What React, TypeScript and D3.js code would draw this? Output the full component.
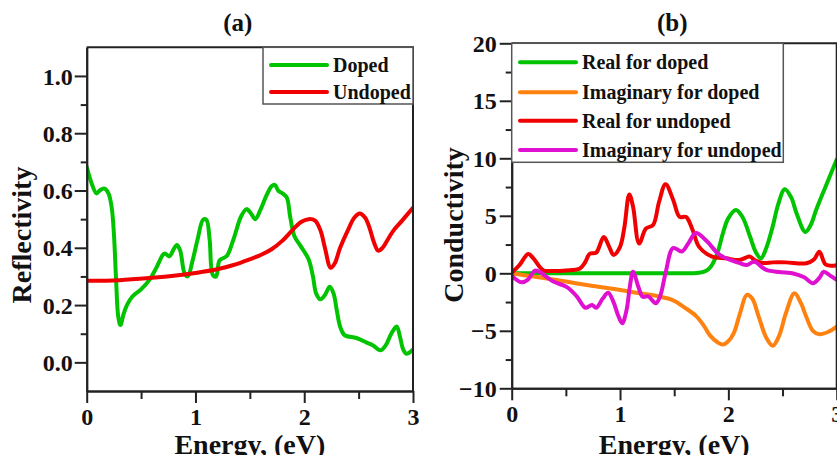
import React, { useEffect, useRef } from 'react';
import * as d3 from 'd3';

// ---- panel (a): reflectivity ----
const reflDopedE = [0, 0.05, 0.09, 0.12, 0.16, 0.2, 0.23, 0.25, 0.27, 0.29, 0.31, 0.34, 0.37, 0.42, 0.5, 0.58, 0.64, 0.7, 0.72, 0.76, 0.8, 0.83, 0.86, 0.9, 0.93, 0.97, 1.02, 1.07, 1.1, 1.13, 1.16, 1.19, 1.22, 1.26, 1.29, 1.35, 1.42, 1.47, 1.51, 1.55, 1.6, 1.65, 1.7, 1.73, 1.76, 1.8, 1.84, 1.87, 1.91, 1.96, 2.04, 2.08, 2.11, 2.15, 2.19, 2.235, 2.27, 2.3, 2.33, 2.37, 2.48, 2.57, 2.63, 2.7, 2.75, 2.8, 2.85, 2.88, 2.91, 2.94, 3.0];
const reflDoped = [0.683, 0.62, 0.59, 0.6, 0.607, 0.59, 0.54, 0.45, 0.29, 0.16, 0.13, 0.17, 0.2, 0.23, 0.255, 0.29, 0.33, 0.375, 0.38, 0.37, 0.395, 0.41, 0.39, 0.31, 0.3, 0.35, 0.43, 0.498, 0.498, 0.43, 0.305, 0.3, 0.355, 0.365, 0.372, 0.43, 0.51, 0.535, 0.52, 0.5, 0.535, 0.58, 0.615, 0.62, 0.6, 0.59, 0.575, 0.51, 0.44, 0.41, 0.36, 0.3, 0.24, 0.22, 0.235, 0.264, 0.24, 0.18, 0.125, 0.095, 0.085, 0.07, 0.06, 0.042, 0.06, 0.1, 0.125, 0.09, 0.045, 0.03, 0.045];
const reflUndopedE = [0, 0.3, 0.6, 0.8, 1.0, 1.2, 1.35, 1.5, 1.6, 1.7, 1.8, 1.9, 1.97, 2.04, 2.1, 2.15, 2.19, 2.243, 2.28, 2.33, 2.4, 2.46, 2.51, 2.56, 2.6, 2.64, 2.68, 2.72, 2.77, 2.82, 2.9, 3.0];
const reflUndoped = [0.285, 0.287, 0.295, 0.302, 0.312, 0.325, 0.34, 0.36, 0.375, 0.395, 0.425, 0.465, 0.49, 0.5, 0.495, 0.46, 0.4, 0.33, 0.345, 0.4, 0.46, 0.505, 0.52, 0.505, 0.47, 0.42, 0.39, 0.4, 0.43, 0.46, 0.495, 0.54];

// ---- panel (b): conductivity ----
const realDopedE = [0, 0.5, 1.0, 1.5, 1.73, 1.8, 1.84, 1.9, 1.95, 2.0, 2.07, 2.13, 2.2, 2.25, 2.3, 2.35, 2.41, 2.46, 2.52, 2.58, 2.63, 2.71, 2.76, 2.81, 2.9, 3.0];
const realDoped = [0, 0, 0, 0, 0.05, 0.25, 0.6, 1.8, 3.5, 4.8, 5.5, 4.9, 3.2, 1.9, 1.3, 2.2, 4.1, 6.0, 7.3, 6.6, 5.2, 3.6, 4.2, 5.5, 7.6, 9.9];
const imagDopedE = [0, 0.25, 0.5, 0.75, 1.0, 1.18, 1.35, 1.49, 1.6, 1.7, 1.77, 1.83, 1.9, 1.95, 2.0, 2.05, 2.11, 2.17, 2.22, 2.28, 2.35, 2.41, 2.47, 2.53, 2.61, 2.67, 2.72, 2.78, 2.84, 2.92, 3.0];
const imagDoped = [0, -0.35, -0.72, -1.1, -1.45, -1.74, -2.0, -2.35, -3.0, -3.7, -4.5, -5.4, -6.0, -6.2, -5.9, -5.2, -3.4, -1.88, -2.2, -3.77, -5.6, -6.3, -5.4, -3.5, -1.74, -2.6, -3.8, -5.0, -5.3, -5.1, -4.64];
const realUndopedE = [0, 0.07, 0.153, 0.2, 0.29, 0.38, 0.5, 0.63, 0.68, 0.72, 0.78, 0.85, 0.9, 0.94, 1.0, 1.04, 1.085, 1.12, 1.176, 1.24, 1.305, 1.36, 1.42, 1.49, 1.55, 1.61, 1.67, 1.73, 1.85, 1.98, 2.1, 2.2, 2.24, 2.32, 2.41, 2.53, 2.72, 2.79, 2.84, 2.9, 3.0];
const realUndoped = [0.05, 0.7, 1.68, 1.3, 0.27, 0.2, 0.25, 0.42, 1.0, 1.7, 1.8, 3.15, 2.3, 1.6, 2.3, 4.0, 6.86, 5.8, 2.6, 3.9, 4.2, 6.2, 7.75, 6.4, 4.9, 4.9, 3.77, 2.3, 1.45, 1.3, 1.16, 1.45, 1.16, 0.9, 0.95, 0.95, 0.87, 1.2, 1.88, 0.75, 0.7];
const imagUndopedE = [0, 0.09, 0.15, 0.215, 0.26, 0.38, 0.51, 0.6, 0.68, 0.74, 0.78, 0.84, 0.89, 0.94, 0.98, 1.02, 1.06, 1.09, 1.12, 1.17, 1.21, 1.26, 1.33, 1.37, 1.42, 1.49, 1.57, 1.63, 1.7, 1.8, 1.92, 2.1, 2.17, 2.24, 2.35, 2.59, 2.7, 2.78, 2.84, 2.88, 2.94, 3.0];
const imagUndoped = [-0.2, -0.78, -0.55, 0.24, 0.1, -0.7, -1.2, -2.0, -3.0, -2.75, -3.0, -2.2, -1.7, -2.5, -3.6, -4.35, -3.2, -1.2, 0.13, -1.2, -2.05, -2.0, -2.6, -2.0, 0, 2.2, 1.9, 2.6, 3.5, 2.8, 1.6, 0.9, 0.72, 1.0, 0.29, 0, -0.35, -0.87, -0.4, 0.14, -0.2, -0.58];

const xTicks = [0, 1, 2, 3];
const reflTicks = [0, 0.2, 0.4, 0.6, 0.8, 1.0];
const condTicks = [-10, -5, 0, 5, 10, 15, 20];

const FONT = '"Liberation Serif", "Times New Roman", serif';
const GREEN = '#00c400';
const RED = '#f00000';
const ORANGE = '#ff8210';
const MAGENTA = '#e010d0';

const zip = (xs, ys) => xs.map((x, i) => [x, ys[i]]);

function drawPanel(svg, cfg) {
    const { id, left, right, top, bottom, yDomain, yTicks, yMinor, yFmt, yPad, title, yLabel, yLabelX, yLabelY, series, legend } = cfg;
    const x = d3.scaleLinear().domain([0, 3]).range([left, right]);
    const y = d3.scaleLinear().domain(yDomain).range([bottom, top]);

    const g = svg.append('g');

    svg.append('defs').append('clipPath').attr('id', `clip-${id}`)
        .append('rect').attr('x', left).attr('y', top).attr('width', right - left).attr('height', bottom - top);

    // series
    const line = d3.line().x(d => x(d[0])).y(d => y(d[1])).curve(d3.curveCatmullRom.alpha(0.5));
    series.forEach(s => {
        g.append('path')
            .attr('d', line(s.data))
            .attr('fill', 'none')
            .attr('stroke', s.color)
            .attr('stroke-width', 4)
            .attr('stroke-linejoin', 'round')
            .attr('stroke-linecap', 'round')
            .attr('clip-path', `url(#clip-${id})`);
    });

    // frame: top and right
    g.append('line').attr('x1', left).attr('x2', right + 1).attr('y1', top).attr('y2', top)
        .attr('stroke', '#222').attr('stroke-width', 2);
    g.append('line').attr('x1', right).attr('x2', right).attr('y1', top).attr('y2', bottom)
        .attr('stroke', '#222').attr('stroke-width', 2);

    // x axis
    const xMinor = [0.5, 1.5, 2.5];
    g.append('g').attr('transform', `translate(0,${bottom})`)
        .call(d3.axisBottom(x).tickValues(xMinor).tickSize(8).tickSizeOuter(0).tickFormat(() => ''));
    const xa = g.append('g').attr('transform', `translate(0,${bottom})`)
        .call(d3.axisBottom(x).tickValues(xTicks).tickSize(12).tickSizeOuter(0).tickFormat(d3.format('d')));
    xa.selectAll('text').attr('y', 34).attr('dy', 0).style('font-size', '24px');

    // y axis
    g.append('g').attr('transform', `translate(${left},0)`)
        .call(d3.axisLeft(y).tickValues(yMinor).tickSize(6).tickSizeOuter(0).tickFormat(() => ''));
    const ya = g.append('g').attr('transform', `translate(${left},0)`)
        .call(d3.axisLeft(y).tickValues(yTicks).tickSize(12).tickSizeOuter(0).tickFormat(d3.format(yFmt)));
    ya.selectAll('text').attr('x', -yPad).attr('dy', '0.34em').style('font-size', '24px');

    g.selectAll('.domain').attr('stroke', '#222').attr('stroke-width', 2);
    g.selectAll('.tick line').attr('stroke', '#222').attr('stroke-width', 2);
    g.selectAll('.tick text').attr('fill', '#111').style('font-family', FONT).style('font-weight', 'bold');

    // titles
    g.append('text').attr('x', (left + right) / 2 - (id === 'b' ? 2 : 12)).attr('y', 31)
        .attr('text-anchor', 'middle').style('font-family', FONT).style('font-weight', 'bold')
        .style('font-size', '25px').attr('fill', '#111').text(title);
    g.append('text').attr('x', (left + right) / 2 + (id === 'b' ? 0 : 0)).attr('y', 454)
        .attr('text-anchor', 'middle').style('font-family', FONT).style('font-weight', 'bold')
        .style('font-size', '28px').attr('fill', '#111').text('Energy, (eV)');
    g.append('text').attr('transform', `translate(${yLabelX},${yLabelY}) rotate(-90)`)
        .attr('text-anchor', 'middle').style('font-family', FONT).style('font-weight', 'bold')
        .style('font-size', '28px').attr('fill', '#111').text(yLabel);

    // legend
    const lg = g.append('g');
    lg.append('rect').attr('x', legend.x0).attr('y', legend.y0)
        .attr('width', legend.x1 - legend.x0).attr('height', legend.y1 - legend.y0)
        .attr('fill', 'white').attr('stroke', '#555').attr('stroke-width', 1.5);
    legend.items.forEach((it, i) => {
        const cy = legend.rows[i];
        lg.append('line').attr('x1', legend.lx0).attr('x2', legend.lx1).attr('y1', cy).attr('y2', cy)
            .attr('stroke', it.color).attr('stroke-width', 4).attr('stroke-linecap', 'round');
        lg.append('text').attr('x', legend.tx).attr('y', cy + 7)
            .style('font-family', FONT).style('font-weight', 'bold').style('font-size', '20px')
            .attr('fill', '#111').text(it.label);
    });
}

const App = () => {
    const svgRef = useRef(null);

    useEffect(() => {
        const svg = d3.select(svgRef.current);
        svg.selectAll('*').remove();

        drawPanel(svg, {
            id: 'a', left: 86.7, right: 413, top: 47.3, bottom: 391,
            yDomain: [-0.1, 1.1], yTicks: reflTicks, yMinor: [0.1, 0.3, 0.5, 0.7, 0.9], yFmt: '.1f', yPad: 14,
            title: '(a)', yLabel: 'Reflectivity', yLabelX: 31, yLabelY: 235,
            series: [
                { color: GREEN, data: zip(reflDopedE, reflDoped) },
                { color: RED, data: zip(reflUndopedE, reflUndoped) },
            ],
            legend: {
                x0: 263, x1: 413, y0: 47.3, y1: 104, lx0: 271, lx1: 327, tx: 333, rows: [65, 92],
                items: [{ color: GREEN, label: 'Doped' }, { color: RED, label: 'Undoped' }],
            },
        });

        drawPanel(svg, {
            id: 'b', left: 511.7, right: 836.7, top: 43.3, bottom: 388.3,
            yDomain: [-10, 20], yTicks: condTicks, yMinor: [-7.5, -2.5, 2.5, 7.5, 12.5, 17.5], yFmt: 'd', yPad: 15,
            title: '(b)', yLabel: 'Conductivity', yLabelX: 463, yLabelY: 225,
            series: [
                { color: GREEN, data: zip(realDopedE, realDoped) },
                { color: ORANGE, data: zip(imagDopedE, imagDoped) },
                { color: RED, data: zip(realUndopedE, realUndoped) },
                { color: MAGENTA, data: zip(imagUndopedE, imagUndoped) },
            ],
            legend: {
                x0: 511.7, x1: 783.3, y0: 43.3, y1: 162.3, lx0: 520, lx1: 576, tx: 582, rows: [62.3, 92.3, 120.7, 150],
                items: [
                    { color: GREEN, label: 'Real for doped' },
                    { color: ORANGE, label: 'Imaginary for doped' },
                    { color: RED, label: 'Real for undoped' },
                    { color: MAGENTA, label: 'Imaginary for undoped' },
                ],
            },
        });
    }, []);

    return (
        <svg ref={svgRef} width={837} height={455}
            style={{ position: 'absolute', left: 0, top: 0, background: 'white' }} />
    );
};

export default App;
